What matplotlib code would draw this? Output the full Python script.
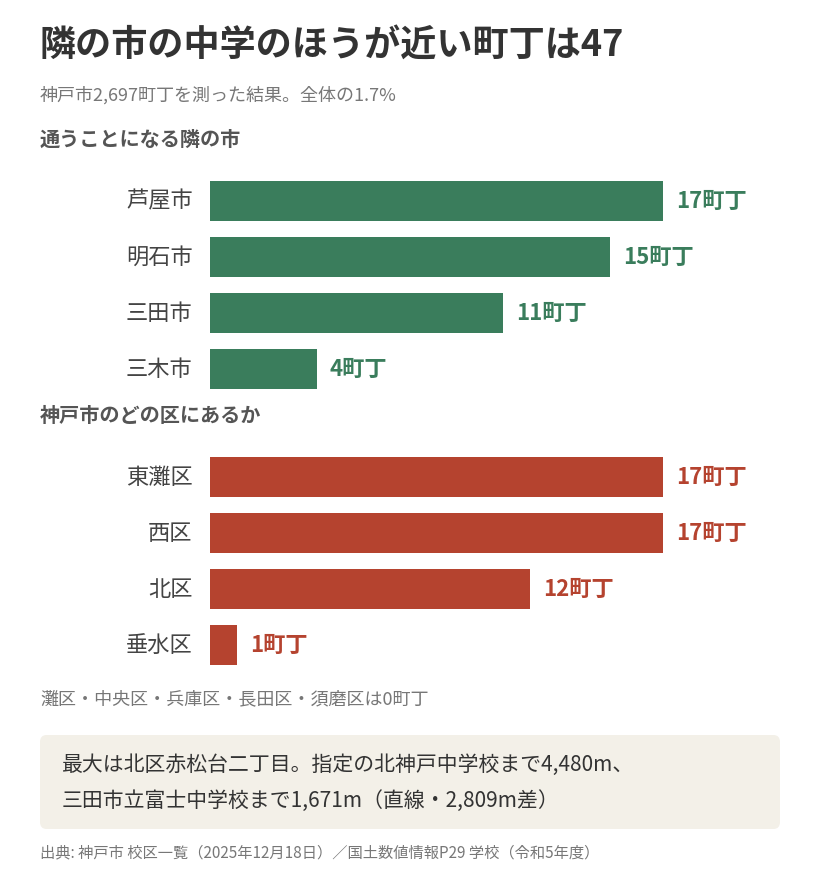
import matplotlib
matplotlib.use("Agg")
import matplotlib.pyplot as plt
from matplotlib.patches import FancyBboxPatch

plt.rcParams['font.family'] = ['Noto Sans CJK JP', 'DejaVu Sans']

# data
neighbor_cities = ["芦屋市", "明石市", "三田市", "三木市"]
neighbor_counts = [17, 15, 11, 4]
wards = ["東灘区", "西区", "北区", "垂水区"]
ward_counts = [17, 17, 12, 1]

GREEN = "#3a7d5c"
RED = "#b5432f"
DARK = "#333333"
GRAY = "#777777"

W, H = 820, 886
fig = plt.figure(figsize=(W / 100, H / 100), dpi=100)
fig.patch.set_facecolor("white")


def fy(py):
    return 1 - py / H


def bar_panel(top_px, names, vals, color):
    ax = fig.add_axes([210 / W, fy(top_px + 224), 453 / W, 224 / H])
    ax.barh(range(len(vals)), vals, height=0.71, color=color)
    ax.set_xlim(0, 17)
    ax.set_ylim(3.5, -0.5)
    ax.axis("off")
    for i, (n, v) in enumerate(zip(names, vals)):
        ax.text(-0.65, i, n, ha="right", va="center", fontsize=16, color="#444444")
        ax.text(v + 0.5, i, f"{v}町丁", ha="left", va="center", fontsize=16,
                fontweight="bold", color=color, clip_on=False)
    return ax


fig.text(40 / W, fy(45), "隣の市の中学のほうが近い町丁は47", fontsize=26,
         fontweight="bold", color=DARK, va="center")
fig.text(40 / W, fy(95), "神戸市2,697町丁を測った結果。全体の1.7%", fontsize=13,
         color=GRAY, va="center")
fig.text(40 / W, fy(139), "通うことになる隣の市", fontsize=14.5,
         fontweight="bold", color="#555555", va="center")
bar_panel(173, neighbor_cities, neighbor_counts, GREEN)

fig.text(40 / W, fy(415), "神戸市のどの区にあるか", fontsize=14.5,
         fontweight="bold", color="#555555", va="center")
bar_panel(449, wards, ward_counts, RED)

fig.text(40 / W, fy(699), "灘区・中央区・兵庫区・長田区・須磨区は0町丁", fontsize=13,
         color=GRAY, va="center")

box = FancyBboxPatch((40 / W, fy(829)), 740 / W, 94 / H,
                     boxstyle="round,pad=0,rounding_size=0.008",
                     transform=fig.transFigure, facecolor="#f3f0e8",
                     edgecolor="none")
fig.patches.append(box)
fig.text(62 / W, fy(765), "最大は北区赤松台二丁目。指定の北神戸中学校まで4,480m、",
         fontsize=15, color=DARK, va="center")
fig.text(62 / W, fy(801), "三田市立富士中学校まで1,671m（直線・2,809m差）",
         fontsize=15, color=DARK, va="center")

fig.text(40 / W, fy(853), "出典: 神戸市 校区一覧（2025年12月18日）／国土数値情報P29 学校（令和5年度）",
         fontsize=11, color=GRAY, va="center")

fig.savefig("out.png", dpi=100)
